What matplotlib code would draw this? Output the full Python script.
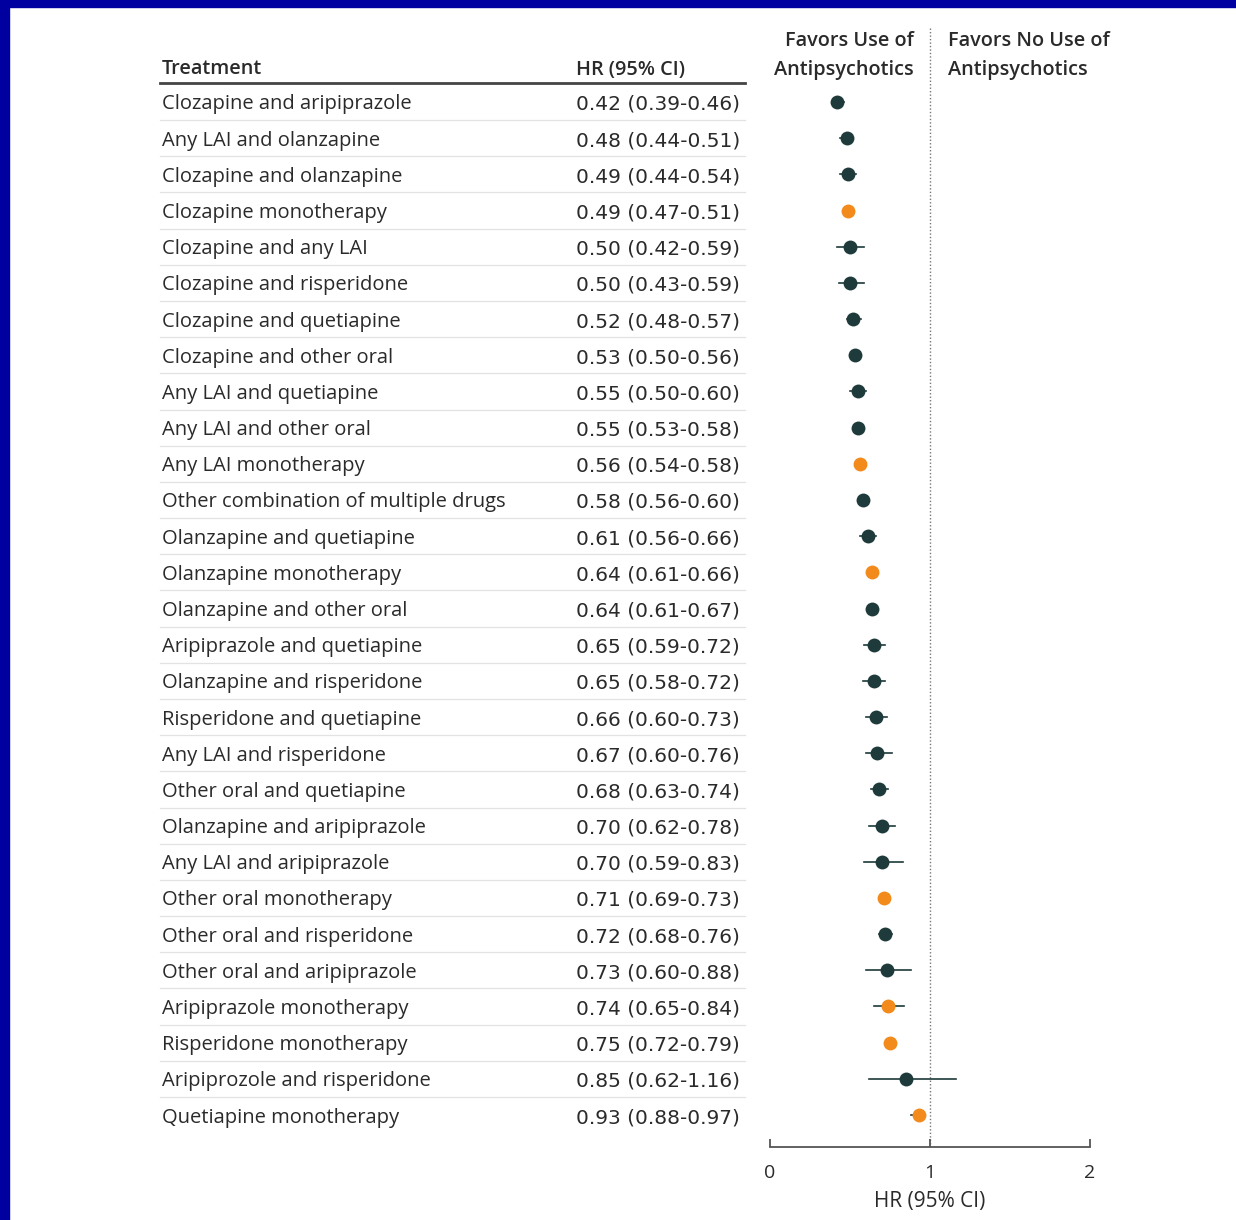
import matplotlib.pyplot as plt
import matplotlib.transforms as mtransforms
from matplotlib.patches import Rectangle

treatments = [
    "Clozapine and aripiprazole", "Any LAI and olanzapine", "Clozapine and olanzapine",
    "Clozapine monotherapy", "Clozapine and any LAI", "Clozapine and risperidone",
    "Clozapine and quetiapine", "Clozapine and other oral", "Any LAI and quetiapine",
    "Any LAI and other oral", "Any LAI monotherapy", "Other combination of multiple drugs",
    "Olanzapine and quetiapine", "Olanzapine monotherapy", "Olanzapine and other oral",
    "Aripiprazole and quetiapine", "Olanzapine and risperidone", "Risperidone and quetiapine",
    "Any LAI and risperidone", "Other oral and quetiapine", "Olanzapine and aripiprazole",
    "Any LAI and aripiprazole", "Other oral monotherapy", "Other oral and risperidone",
    "Other oral and aripiprazole", "Aripiprazole monotherapy", "Risperidone monotherapy",
    "Aripiprozole and risperidone", "Quetiapine monotherapy",
]
hr = [0.42, 0.48, 0.49, 0.49, 0.50, 0.50, 0.52, 0.53, 0.55, 0.55, 0.56, 0.58, 0.61, 0.64, 0.64,
      0.65, 0.65, 0.66, 0.67, 0.68, 0.70, 0.70, 0.71, 0.72, 0.73, 0.74, 0.75, 0.85, 0.93]
lo = [0.39, 0.44, 0.44, 0.47, 0.42, 0.43, 0.48, 0.50, 0.50, 0.53, 0.54, 0.56, 0.56, 0.61, 0.61,
      0.59, 0.58, 0.60, 0.60, 0.63, 0.62, 0.59, 0.69, 0.68, 0.60, 0.65, 0.72, 0.62, 0.88]
hi = [0.46, 0.51, 0.54, 0.51, 0.59, 0.59, 0.57, 0.56, 0.60, 0.58, 0.58, 0.60, 0.66, 0.66, 0.67,
      0.72, 0.72, 0.73, 0.76, 0.74, 0.78, 0.83, 0.73, 0.76, 0.88, 0.84, 0.79, 1.16, 0.97]
mono = [False, False, False, True, False, False, False, False, False, False, True, False, False,
        True, False, False, False, False, False, False, False, False, True, False, False, True,
        True, False, True]

W, H = 1236, 1220
fig = plt.figure(figsize=(W / 100, H / 100), dpi=100)
plt.rcParams['font.family'] = ['Open Sans', 'DejaVu Sans']

# blue frame on top and left
fig.patches.append(Rectangle((0, 1 - 7 / H), 1, 7 / H, transform=fig.transFigure,
                             color='#0000a0', zorder=0))
fig.patches.append(Rectangle((0, 0), 9 / W, 1, transform=fig.transFigure,
                             color='#0000a0', zorder=0))

row0, step = 102, 36.18
top_px, bot_px = 20, 1147
x0_px, x2_px = 770, 1090
ax = fig.add_axes([x0_px / W, 1 - bot_px / H, (x2_px - x0_px) / W, (bot_px - top_px) / H])
ax.set_xlim(0, 2)
ax.set_ylim((bot_px - row0) / step, (top_px - row0) / step)

dark = '#1e3a3a'
orange = '#f28a1c'
txt = '#2a2a2a'
n = len(treatments)
for i in range(n):
    ax.plot([lo[i], hi[i]], [i, i], color=dark, lw=1.2, zorder=2)
    ax.plot(hr[i], i, 'o', ms=10, color=orange if mono[i] else dark,
            markeredgewidth=0, zorder=3)

ax.plot([1, 1], [(top_px + 8 - row0) / step, (bot_px - row0) / step], color='#777777',
        lw=1, ls=(0, (1, 1.5)), zorder=1)

for s in ['top', 'right', 'left']:
    ax.spines[s].set_visible(False)
ax.spines['bottom'].set_color('#555555')
ax.spines['bottom'].set_linewidth(1.3)
ax.set_yticks([])
ax.set_xticks([0, 1, 2])
ax.set_xticklabels(['0', '1', '2'])
ax.tick_params(axis='x', direction='in', length=6, width=1.3, color='#555555',
               labelsize=14, labelcolor=txt, pad=12)
ax.set_xlabel('HR (95% CI)', fontsize=15, color=txt, labelpad=7)

# table text in figure x, data y (small shift down so glyphs sit centred on the row)
tr = mtransforms.blended_transform_factory(fig.transFigure, ax.transData)
dy = 2.5 / step
fs = 14.5
hfs = 14.3
for i in range(n):
    ax.text(162 / W, i + dy, treatments[i], transform=tr, fontsize=fs, color=txt,
            va='center', ha='left', clip_on=False)
    ax.text(576 / W, i + dy, f"{hr[i]:.2f} ({lo[i]:.2f}-{hi[i]:.2f})", transform=tr,
            fontsize=14.5, family='DejaVu Sans', color=txt, va='center', ha='left',
            clip_on=False)
    if i < n - 1:
        ax.plot([160 / W, 745 / W], [i + 0.5, i + 0.5], transform=tr, color='#e2e2e2',
                lw=0.9, clip_on=False)

hy = (67 - row0) / step + dy
ax.text(162 / W, hy, 'Treatment', transform=tr, fontsize=hfs, fontweight='semibold',
        color=txt, va='center', ha='left')
ax.text(576 / W, hy, 'HR (95% CI)', transform=tr, fontsize=hfs, fontweight='semibold',
        color=txt, va='center', ha='left')
ax.plot([160 / W, 745 / W], [(83 - row0) / step] * 2, transform=tr, color='#444444',
        lw=2, clip_on=False)

hy1 = (38 - row0) / step + dy
ax.text(914 / W, hy1, 'Favors Use of', transform=tr, fontsize=hfs, fontweight='semibold',
        color=txt, va='center', ha='right')
ax.text(914 / W, hy, 'Antipsychotics', transform=tr, fontsize=hfs, fontweight='semibold',
        color=txt, va='center', ha='right')
ax.text(948 / W, hy1, 'Favors No Use of', transform=tr, fontsize=hfs, fontweight='semibold',
        color=txt, va='center', ha='left')
ax.text(948 / W, hy, 'Antipsychotics', transform=tr, fontsize=hfs, fontweight='semibold',
        color=txt, va='center', ha='left')

fig.savefig('out.png', dpi=100)
